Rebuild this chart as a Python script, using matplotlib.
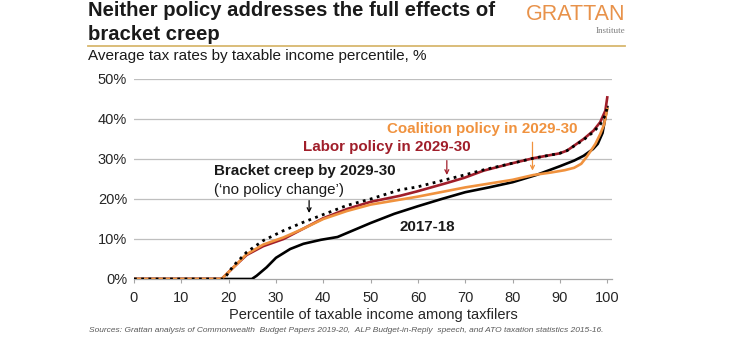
import matplotlib
matplotlib.use("Agg")
import matplotlib.pyplot as plt
from matplotlib.lines import Line2D

plt.rcParams['font.family'] = ['Liberation Sans', 'DejaVu Sans']

# Average tax rates (%) by taxable income percentile
base_x = [0, 24.9, 25.9, 28, 30, 33, 35.8, 39.5, 43, 45, 50, 55, 60, 65, 70, 75, 80, 85, 90, 93, 95, 97, 98, 99, 100]
base_y = [0, 0, 0.8, 2.9, 5.3, 7.5, 8.8, 9.8, 10.5, 11.5, 14, 16.3, 18.2, 20, 21.7, 22.9, 24.2, 26, 28.2, 29.6, 30.8, 32.5, 33.8, 36.5, 43]

coal_x = [0, 18.5, 21, 23.8, 27.3, 31.6, 35.8, 40, 45, 50, 56, 60, 70, 80, 84.4, 88, 91, 93, 94.5, 95.5, 96.5, 97.5, 98.5, 99.3, 100]
coal_y = [0, 0, 2.9, 6.2, 8.6, 10.4, 12.6, 15, 17, 18.6, 19.8, 20.6, 22.9, 24.8, 26, 26.6, 27.2, 27.8, 28.8, 30.3, 32, 33.8, 36.2, 38.5, 42.5]

lab_x = [0, 18.5, 21, 23.8, 27.3, 31.6, 35.8, 40, 45, 50, 56.2, 59.8, 66.1, 69.8, 73.9, 79.8, 84.4, 89.9, 91.5, 95, 97.1, 98.5, 99.6, 100]
lab_y = [0, 0, 2.9, 6.0, 8.2, 10.0, 12.6, 15.2, 17.5, 19.3, 20.8, 21.9, 24.0, 25.3, 27.1, 28.9, 30.2, 31.4, 32.1, 35, 37.1, 39.2, 42.1, 45.4]

creep_x = [0, 19, 21, 23.8, 27.3, 31.6, 35.8, 39.3, 45, 50, 56.2, 59.8, 66.1, 69.8, 73.9, 79.8, 84.4, 89.9, 91.5, 95, 97.1, 98.5, 99.6, 100]
creep_y = [0, 0, 3.3, 6.7, 9.6, 12.1, 14.2, 15.8, 18.4, 20, 22.3, 23.0, 24.9, 26.0, 27.3, 28.9, 30.2, 31.4, 32.1, 34.8, 36.8, 38.6, 41, 43]

x_ticks = [0, 10, 20, 30, 40, 50, 60, 70, 80, 90, 100]
y_ticks = [0, 10, 20, 30, 40, 50]

ORANGE = '#F0923E'
RED = '#A01E2A'
GRID = '#BFBFBF'

W, H = 754, 340
fig = plt.figure(figsize=(W / 100, H / 100), dpi=100)
ax = fig.add_axes([134 / W, 61 / H, (612 - 134) / W, 200 / H])

for y in y_ticks[1:]:
    ax.axhline(y, color=GRID, lw=0.9, zorder=0)

ax.plot(base_x, base_y, color='black', lw=1.9, zorder=3)
ax.plot(lab_x, lab_y, color=RED, lw=1.9, zorder=4)
ax.plot(coal_x, coal_y, color=ORANGE, lw=1.9, zorder=5)
ax.plot(creep_x, creep_y, color='black', lw=2.0, ls=(0, (1, 1.6)), zorder=6)

ax.set_xlim(0, 101)
ax.set_ylim(0, 50)
ax.set_xticks(x_ticks)
ax.set_yticks(y_ticks)
ax.set_yticklabels([f'{v}%' for v in y_ticks])
for s in ['top', 'right', 'left']:
    ax.spines[s].set_visible(False)
ax.spines['bottom'].set_color('#A6A6A6')
ax.spines['bottom'].set_linewidth(0.9)
ax.tick_params(axis='x', length=3, color='#A6A6A6', pad=6, labelsize=10.5, labelcolor='#262626')
ax.tick_params(axis='y', length=0, pad=5, labelsize=10.5, labelcolor='#262626')
ax.set_xlabel('Percentile of taxable income among taxfilers', fontsize=10.5, color='#262626', labelpad=2)

# series labels
lab_fs = 10.9
ax.text(73.6, 37.5, 'Coalition policy in 2029-30', color=ORANGE, fontsize=lab_fs,
        fontweight='bold', ha='center', va='center')
ax.text(53.5, 32.9, 'Labor policy in 2029-30', color=RED, fontsize=lab_fs,
        fontweight='bold', ha='center', va='center')
ax.text(16.9, 27.1, 'Bracket creep by 2029-30', color='#1a1a1a', fontsize=lab_fs,
        fontweight='bold', ha='left', va='center')
ax.text(16.9, 22.3, '(\u2018no policy change\u2019)', color='#1a1a1a', fontsize=lab_fs,
        ha='left', va='center')
ax.text(56.2, 13.1, '2017-18', color='#1a1a1a', fontsize=lab_fs,
        fontweight='bold', ha='left', va='center')

# pointer arrows
arrow_kw = dict(arrowstyle='->', lw=0.9, shrinkA=0, shrinkB=0, mutation_scale=7)
ax.annotate('', xy=(37, 16.5), xytext=(37, 19.6), arrowprops=dict(color='black', **arrow_kw))
ax.annotate('', xy=(66.1, 26.0), xytext=(66.1, 29.6), arrowprops=dict(color=RED, **arrow_kw))
ax.annotate('', xy=(84.2, 27.1), xytext=(84.2, 34.2), arrowprops=dict(color=ORANGE, **arrow_kw))

# header
fig.text(88 / W, 1 - 11 / H, 'Neither policy addresses the full effects of',
         fontsize=14.6, fontweight='bold', color='#1a1a1a', va='center', ha='left')
fig.text(88 / W, 1 - 34 / H, 'bracket creep',
         fontsize=14.6, fontweight='bold', color='#1a1a1a', va='center', ha='left')
fig.add_artist(Line2D([88 / W, 625 / W], [1 - 45.5 / H, 1 - 45.5 / H],
                      color='#D8B86E', lw=1.3, transform=fig.transFigure))
fig.text(88 / W, 1 - 56 / H, 'Average tax rates by taxable income percentile, %',
         fontsize=11, color='#1a1a1a', va='center', ha='left')

fig.text(625 / W, 1 - 15 / H, 'GRATTAN', fontsize=15.5, color='#E8924A',
         ha='right', va='center')
fig.text(625 / W, 1 - 31 / H, 'Institute', fontsize=6.5, color='#7f7f7f',
         family=['Liberation Serif', 'DejaVu Serif'], ha='right', va='center')

fig.text(346 / W, 1 - 331 / H,
         'Sources: Grattan analysis of Commonwealth  Budget Papers 2019-20,  ALP Budget-in-Reply  speech, and ATO taxation statistics 2015-16.',
         fontsize=6.0, style='italic', color='#595959', ha='center', va='center')

fig.savefig('out.png', dpi=100)
